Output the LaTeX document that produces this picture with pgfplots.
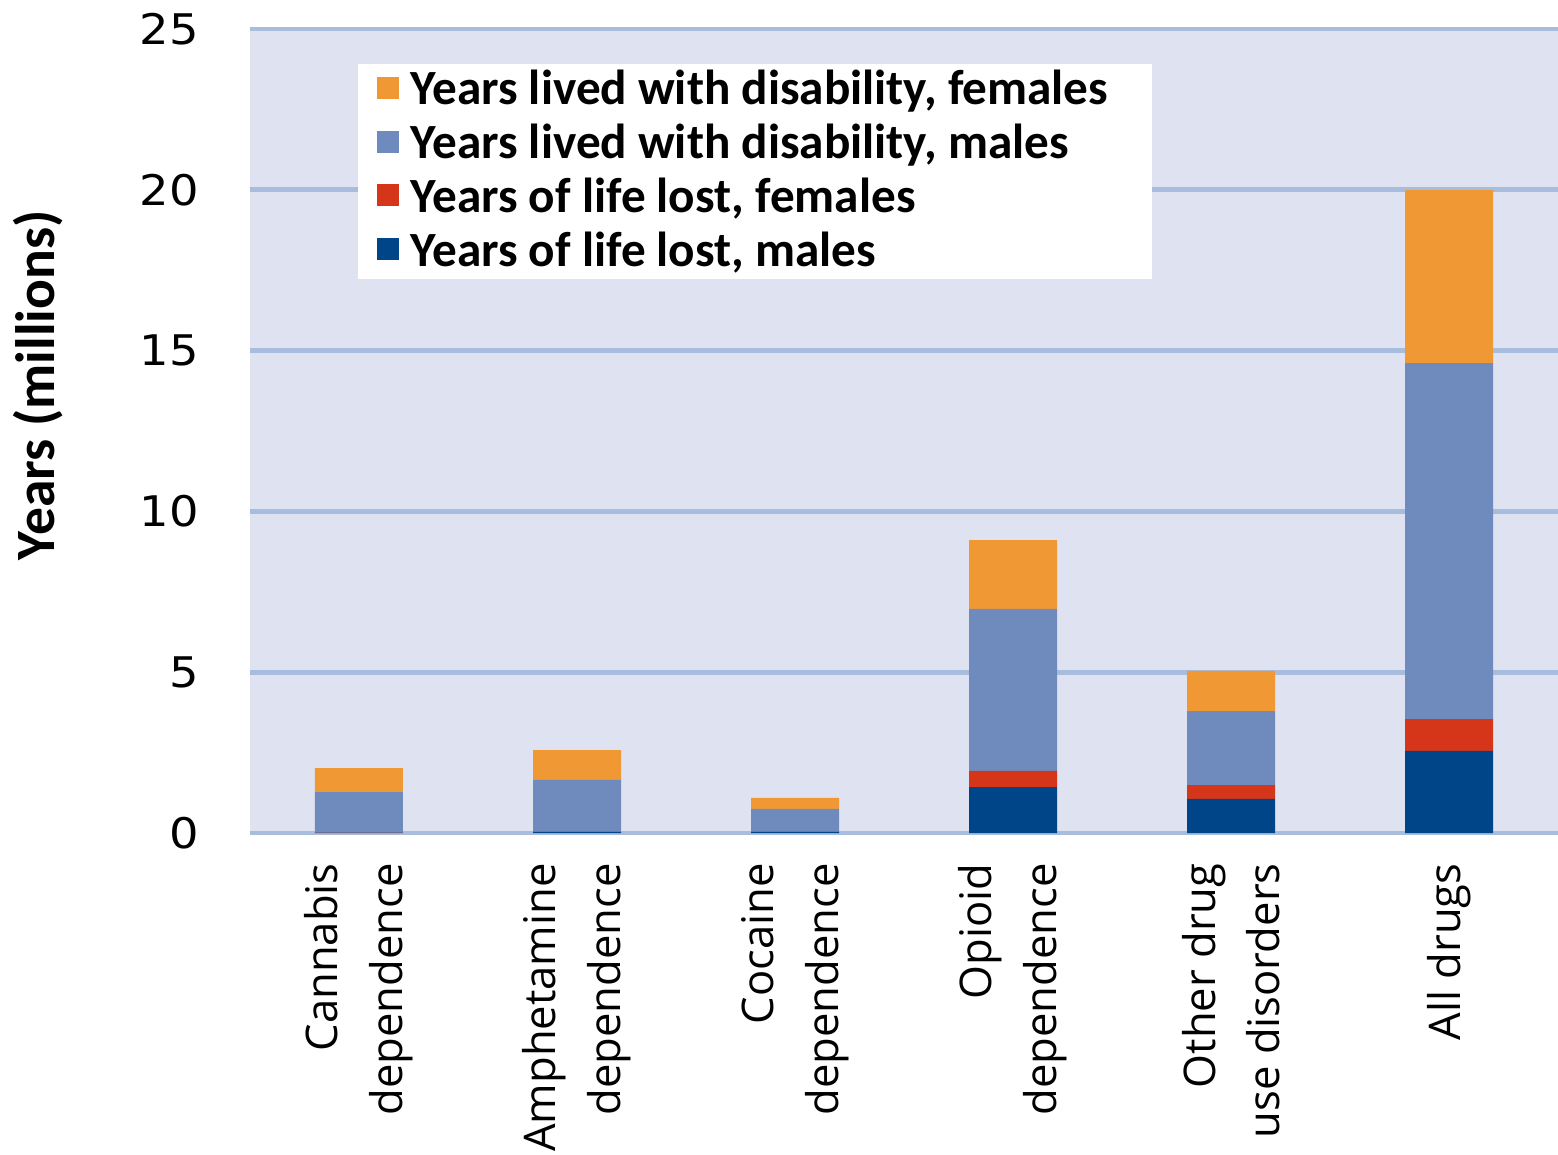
\documentclass[border=0pt]{standalone}
\usepackage{pgfplots}
\pgfplotsset{compat=1.18}
\usepackage{pgfplotstable}
\usepackage{fontspec}
\setmainfont{Open Sans}
\newfontfamily\tickfont[FakeStretch=1.1]{DejaVu Sans}
\newfontfamily\legfont{Carlito}

\definecolor{yldf}{RGB}{240,152,52}
\definecolor{yldm}{RGB}{111,139,190}
\definecolor{yllf}{RGB}{213,54,26}
\definecolor{yllm}{RGB}{0,69,135}
\definecolor{bgfill}{RGB}{223,226,241}
\definecolor{gridc}{RGB}{168,188,221}

% values in millions of years
\pgfplotstableread{
x yllm yllf yldm yldf
0 0.01 0.01 1.25 0.75
1 0.03 0.02 1.60 0.93
2 0.03 0.02 0.70 0.34
3 1.43 0.50 5.04 2.14
4 1.06 0.43 2.30 1.25
5 2.55 0.99 11.07 5.38
}\drugs

\begin{document}
\begin{tikzpicture}
\useasboundingbox (-2.5,-3.21) rectangle (13.08,8.33);
\begin{axis}[
  scale only axis, clip=false,
  width=13.08cm, height=8.04cm,
  ybar stacked, bar width=8.8mm,
  xmin=-0.5, xmax=5.5, ymin=0, ymax=25,
  ytick={0,5,...,25},
  xtick=data,
  xticklabels={{Cannabis\\dependence},{Amphetamine\\dependence},{Cocaine\\dependence},{Opioid\\dependence},{Other drug\\use disorders},{All drugs}},
  xticklabel style={anchor=east, yshift=-1.8mm, rotate=90, align=right, font=\fontsize{12.4}{18.4}\selectfont},
  /pgf/number format/assume math mode=true,
  yticklabel style={font=\tickfont\fontsize{12}{14}\selectfont, xshift=-3.9mm},
  ymajorgrids, grid style={gridc, line width=1.4pt},
  axis line style={draw=none}, major tick length=0pt,
  axis background/.style={fill=bgfill},
  reverse legend,
  legend cell align=left,
  legend style={at={(rel axis cs:0.0963,0.946)}, anchor=north west, fill=none, draw=none, inner sep=0pt,
    nodes={inner sep=0pt, text height=9pt, text depth=2.5pt}, row sep=3.8pt,
    font=\legfont\bfseries\fontsize{14}{16}\selectfont},
  legend image code/.code={\fill[#1] (0cm,-0.055cm) rectangle (0.22cm,0.165cm); \path (0.34cm,0cm);},
]
\fill[white] (rel axis cs:0.0826,0.956) rectangle (rel axis cs:0.6896,0.689);
\addplot[fill=yllm, draw=none] table[x=x, y=yllm] {\drugs};
\addlegendentry{Years of life lost, males}
\addplot[fill=yllf, draw=none] table[x=x, y=yllf] {\drugs};
\addlegendentry{Years of life lost, females}
\addplot[fill=yldm, draw=none] table[x=x, y=yldm] {\drugs};
\addlegendentry{Years lived with disability, males}
\addplot[fill=yldf, draw=none] table[x=x, y=yldf] {\drugs};
\addlegendentry{Years lived with disability, females}
\node[rotate=90, font=\legfont\bfseries\fontsize{15.8}{18}\selectfont] at ([xshift=-2.12cm]rel axis cs:0,0.557) {Years (millions)};
\end{axis}
\end{tikzpicture}
\end{document}
